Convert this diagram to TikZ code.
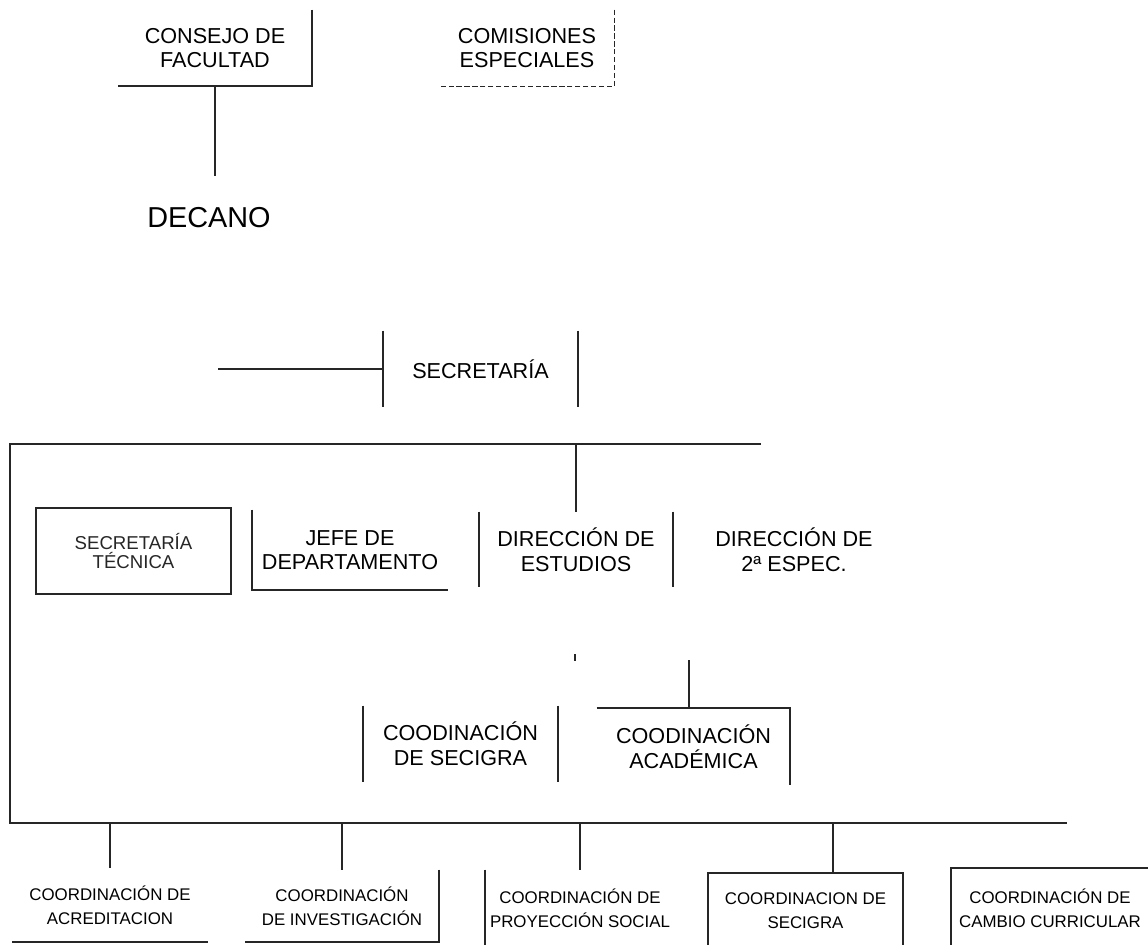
\documentclass[tikz,border=0pt]{standalone}
\usepackage{fontspec}
\setmainfont{Liberation Sans}

\begin{document}
\begin{tikzpicture}[
    x=0.02cm, y=-0.02cm,
    unit/.style={inner sep=0pt, align=center, text=black, font=\fontsize{12.3}{14}\selectfont},
    smallunit/.style={unit, font=\fontsize{9.6}{13.6}\selectfont},
    darkline/.style={-, black!85, line width=1pt},
    dashline/.style={darkline, line width=0.8pt, dash pattern=on 3pt off 1.5pt}
    ]
    \useasboundingbox (0,0) rectangle (1148,945);

    %Nodes
    \node[unit, minimum width=3.88cm, minimum height=1.52cm] (consejo) at (215,48) {CONSEJO DE\\FACULTAD};
    \node[unit, minimum width=3.48cm, minimum height=1.52cm] (comisiones) at (527,48) {COMISIONES\\ESPECIALES};
    \node[unit, font=\fontsize{16.4}{19}\selectfont] (decano) at (209,218) {DECANO};
    \node[unit, minimum width=3.9cm, minimum height=1.52cm] (secretaria) at (480.5,369) {SECRETARÍA};

    \node[unit, draw, darkline, font=\fontsize{10.6}{10.8}\selectfont, minimum width=3.9cm, minimum height=1.72cm] (sectec) at (133.5,551) {SECRETARÍA\\TÉCNICA};
    \node[unit, minimum width=3.92cm, minimum height=1.6cm] (jefe) at (350,550) {JEFE DE\\DEPARTAMENTO};
    \node[unit, minimum width=3.88cm, minimum height=1.5cm] (estudios) at (576,549.5) {DIRECCIÓN DE\\ESTUDIOS};
    \node[unit] (espec) at (794,550) {DIRECCIÓN DE\\2ª ESPEC.};

    \node[unit, minimum width=3.9cm, minimum height=1.52cm] (secigraA) at (460.5,744) {COODINACIÓN\\DE SECIGRA};
    \node[unit, minimum width=3.86cm, minimum height=1.54cm] (academica) at (693.5,746.5) {COODINACIÓN\\ACADÉMICA};

    \node[smallunit, minimum width=3.9cm, minimum height=1.48cm] (acred) at (110,905) {COORDINACIÓN DE\\ACREDITACION};
    \node[smallunit, minimum width=3.88cm, minimum height=1.44cm] (invest) at (342,906) {COORDINACIÓN\\DE INVESTIGACIÓN};
    \node[smallunit, minimum width=3.8cm, minimum height=1.52cm] (proyeccion) at (580,908) {COORDINACIÓN DE\\PROYECCIÓN SOCIAL};
    \node[smallunit, minimum width=3.9cm, minimum height=1.52cm] (secigraB) at (805.5,911) {COORDINACION DE\\SECIGRA};
    \node[smallunit, minimum width=3.96cm, minimum height=1.6cm] (cambio) at (1050,908) {COORDINACIÓN DE\\CAMBIO CURRICULAR};

    \coordinate (decanoTop) at (215,176);
    \coordinate (secLeft) at (218,369);
    \coordinate (busTL) at (10,444);
    \coordinate (busTR) at (761,444);
    \coordinate (busBL) at (10,823);
    \coordinate (busBR) at (1067,823);
    \coordinate (tick) at (575,654);
    \coordinate (acadTop) at (689,660);
    \coordinate (dropD) at (833,823);

    %Box edges
    \draw[darkline] (consejo.north east) -- (consejo.south east) -- (consejo.south west);
    \draw[dashline] (comisiones.north east) -- (comisiones.south east) -- (comisiones.south west);
    \draw[darkline] (secretaria.north west) -- (secretaria.south west);
    \draw[darkline] (secretaria.north east) -- (secretaria.south east);
    \draw[darkline] (jefe.north west) -- (jefe.south west) -- (jefe.south east);
    \draw[darkline] (estudios.north west) -- (estudios.south west);
    \draw[darkline] (estudios.north east) -- (estudios.south east);
    \draw[darkline] (secigraA.north west) -- (secigraA.south west);
    \draw[darkline] (secigraA.north east) -- (secigraA.south east);
    \draw[darkline] (academica.north west) -- (academica.north east) -- (academica.south east);
    \draw[darkline] (acred.south west) -- (acred.south east);
    \draw[darkline] (invest.north east) -- (invest.south east) -- (invest.south west);
    \draw[darkline] (proyeccion.north west) -- (proyeccion.south west);
    \draw[darkline] (secigraB.south west) -- (secigraB.north west) -- (secigraB.north east) -- (secigraB.south east);
    \draw[darkline] (cambio.south west) -- (cambio.north west) -- (cambio.north east);

    %Lines
    \draw[darkline] (consejo.south) -- (decanoTop);
    \draw[darkline] (secLeft) -- (secretaria.west);
    \draw[darkline] (busTR) -- (busTL) -- (busBL) -- (busBR);
    \draw[darkline] (estudios.north |- busTL) -- (estudios.north);
    \draw[darkline] (tick) -- ++(0,7);
    \draw[darkline] (acadTop) -- (acadTop |- academica.north);
    \draw[darkline] (acred.north |- busBL) -- (acred.north);
    \draw[darkline] (invest.north |- busBL) -- (invest.north);
    \draw[darkline] (proyeccion.north |- busBL) -- (proyeccion.north);
    \draw[darkline] (dropD) -- (dropD |- secigraB.north);

\end{tikzpicture}
\end{document}
